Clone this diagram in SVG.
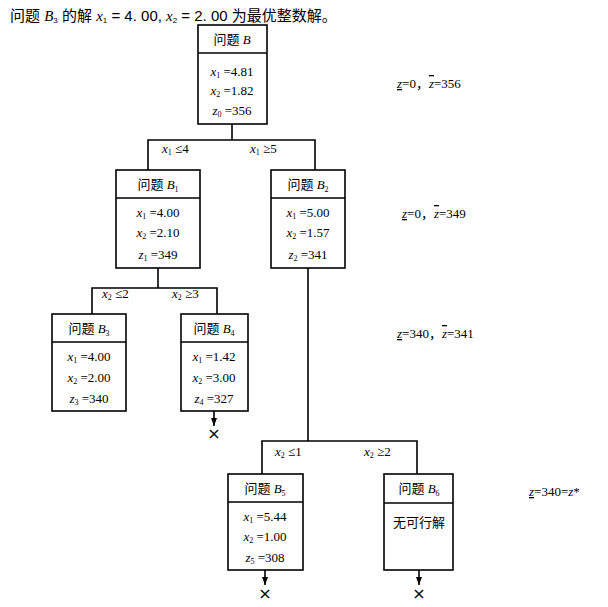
<svg xmlns="http://www.w3.org/2000/svg" width="608" height="607" viewBox="0 0 608 607">
<style>
.b{fill:#fff;stroke:#000;stroke-width:1.6}
.l{fill:none;stroke:#000;stroke-width:1.6}
text{font-family:"Liberation Serif","Noto Sans CJK SC",serif;font-size:13px;fill:#000}
.m{text-anchor:middle}
.h{font-size:13px;text-anchor:middle}
.x{font-family:"DejaVu Sans",sans-serif;font-size:16px;text-anchor:middle}
</style>
<defs><marker id="a" markerWidth="9" markerHeight="8" refX="8" refY="4" orient="auto" markerUnits="userSpaceOnUse"><path d="M0,1 L8,4 L0,7 Z" fill="#000"/></marker></defs>
<text x="10" y="21" style="font-family:'Liberation Sans','Noto Sans CJK SC',sans-serif;font-size:15px">问题 <tspan font-style="italic" font-family="Liberation Serif">B</tspan><tspan font-size="8" dy="2">3</tspan><tspan dy="-2"> 的解 </tspan><tspan font-style="italic" font-family="Liberation Serif">x</tspan><tspan font-size="8" dy="2">1</tspan><tspan dy="-2"> = 4. 00, </tspan><tspan font-style="italic" font-family="Liberation Serif">x</tspan><tspan font-size="8" dy="2">2</tspan><tspan dy="-2"> = 2. 00 为最优整数解。</tspan></text>
<g id="connectors">
<path class="l" d="M232,124V140M148,170V140H315V170"/>
<path class="l" d="M158,268V288M92,314V288H217V314"/>
<path class="l" d="M308,268V441M262,474V441H417V474"/>
<path class="l" d="M214,411V426" marker-end="url(#a)"/>
<path class="l" d="M265,570V585" marker-end="url(#a)"/>
<path class="l" d="M419,570V585" marker-end="url(#a)"/>
<text x="162" y="153"><tspan font-style="italic">x</tspan><tspan font-size="8" dy="2">1</tspan><tspan dy="-2"> ≤4</tspan></text>
<text x="250" y="153"><tspan font-style="italic">x</tspan><tspan font-size="8" dy="2">1</tspan><tspan dy="-2"> ≥5</tspan></text>
<text x="102" y="298"><tspan font-style="italic">x</tspan><tspan font-size="8" dy="2">2</tspan><tspan dy="-2"> ≤2</tspan></text>
<text x="172" y="298"><tspan font-style="italic">x</tspan><tspan font-size="8" dy="2">2</tspan><tspan dy="-2"> ≥3</tspan></text>
<text x="275" y="456"><tspan font-style="italic">x</tspan><tspan font-size="8" dy="2">2</tspan><tspan dy="-2"> ≤1</tspan></text>
<text x="364" y="456"><tspan font-style="italic">x</tspan><tspan font-size="8" dy="2">2</tspan><tspan dy="-2"> ≥2</tspan></text>
<text class="x" x="214" y="439">×</text>
<text class="x" x="265" y="599">×</text>
<text class="x" x="419" y="599">×</text>
</g>
<g id="B"><rect class="b" x="198" y="25" width="69" height="99"/><path class="l" d="M198,53H267"/>
<text class="h" x="232" y="44">问题 <tspan font-style="italic">B</tspan></text>
<text class="m" x="232" y="76"><tspan font-style="italic">x</tspan><tspan font-size="8" dy="2">1</tspan><tspan dy="-2"> =4.81</tspan></text>
<text class="m" x="232" y="95"><tspan font-style="italic">x</tspan><tspan font-size="8" dy="2">2</tspan><tspan dy="-2"> =1.82</tspan></text>
<text class="m" x="232" y="115"><tspan font-style="italic">z</tspan><tspan font-size="8" dy="2">0</tspan><tspan dy="-2"> =356</tspan></text></g>
<g id="B1"><rect class="b" x="116" y="170" width="84" height="98"/><path class="l" d="M116,198H200"/>
<text class="h" x="158" y="189">问题 <tspan font-style="italic">B</tspan><tspan font-size="8" dy="3">1</tspan></text>
<text class="m" x="158" y="217"><tspan font-style="italic">x</tspan><tspan font-size="8" dy="2">1</tspan><tspan dy="-2"> =4.00</tspan></text>
<text class="m" x="158" y="237"><tspan font-style="italic">x</tspan><tspan font-size="8" dy="2">2</tspan><tspan dy="-2"> =2.10</tspan></text>
<text class="m" x="158" y="259"><tspan font-style="italic">z</tspan><tspan font-size="8" dy="2">1</tspan><tspan dy="-2"> =349</tspan></text></g>
<g id="B2"><rect class="b" x="271" y="170" width="74" height="98"/><path class="l" d="M271,198H345"/>
<text class="h" x="308" y="189">问题 <tspan font-style="italic">B</tspan><tspan font-size="8" dy="3">2</tspan></text>
<text class="m" x="308" y="217"><tspan font-style="italic">x</tspan><tspan font-size="8" dy="2">1</tspan><tspan dy="-2"> =5.00</tspan></text>
<text class="m" x="308" y="237"><tspan font-style="italic">x</tspan><tspan font-size="8" dy="2">2</tspan><tspan dy="-2"> =1.57</tspan></text>
<text class="m" x="308" y="259"><tspan font-style="italic">z</tspan><tspan font-size="8" dy="2">2</tspan><tspan dy="-2"> =341</tspan></text></g>
<g id="B3"><rect class="b" x="52" y="314" width="74" height="97"/><path class="l" d="M52,342H126"/>
<text class="h" x="89" y="333">问题 <tspan font-style="italic">B</tspan><tspan font-size="8" dy="3">3</tspan></text>
<text class="m" x="89" y="361"><tspan font-style="italic">x</tspan><tspan font-size="8" dy="2">1</tspan><tspan dy="-2"> =4.00</tspan></text>
<text class="m" x="89" y="382"><tspan font-style="italic">x</tspan><tspan font-size="8" dy="2">2</tspan><tspan dy="-2"> =2.00</tspan></text>
<text class="m" x="89" y="403"><tspan font-style="italic">z</tspan><tspan font-size="8" dy="2">3</tspan><tspan dy="-2"> =340</tspan></text></g>
<g id="B4"><rect class="b" x="181" y="314" width="67" height="97"/><path class="l" d="M181,342H248"/>
<text class="h" x="214" y="333">问题 <tspan font-style="italic">B</tspan><tspan font-size="8" dy="3">4</tspan></text>
<text class="m" x="214" y="361"><tspan font-style="italic">x</tspan><tspan font-size="8" dy="2">1</tspan><tspan dy="-2"> =1.42</tspan></text>
<text class="m" x="214" y="382"><tspan font-style="italic">x</tspan><tspan font-size="8" dy="2">2</tspan><tspan dy="-2"> =3.00</tspan></text>
<text class="m" x="214" y="403"><tspan font-style="italic">z</tspan><tspan font-size="8" dy="2">4</tspan><tspan dy="-2"> =327</tspan></text></g>
<g id="B5"><rect class="b" x="228" y="474" width="75" height="96"/><path class="l" d="M228,502H303"/>
<text class="h" x="265" y="493">问题 <tspan font-style="italic">B</tspan><tspan font-size="8" dy="3">5</tspan></text>
<text class="m" x="265" y="521"><tspan font-style="italic">x</tspan><tspan font-size="8" dy="2">1</tspan><tspan dy="-2"> =5.44</tspan></text>
<text class="m" x="265" y="541"><tspan font-style="italic">x</tspan><tspan font-size="8" dy="2">2</tspan><tspan dy="-2"> =1.00</tspan></text>
<text class="m" x="265" y="562"><tspan font-style="italic">z</tspan><tspan font-size="8" dy="2">5</tspan><tspan dy="-2"> =308</tspan></text></g>
<g id="B6"><rect class="b" x="384" y="474" width="69" height="96"/><path class="l" d="M384,503H453"/>
<text class="h" x="419" y="493">问题 <tspan font-style="italic">B</tspan><tspan font-size="8" dy="3">6</tspan></text>
<text class="h" x="419" y="527">无可行解</text></g>
<g id="bounds">
<text x="397" y="88"><tspan font-style="italic" text-decoration="underline">z</tspan>=0，<tspan font-style="italic" text-decoration="overline">z</tspan>=356</text>
<text x="402" y="218"><tspan font-style="italic" text-decoration="underline">z</tspan>=0，<tspan font-style="italic" text-decoration="overline">z</tspan>=349</text>
<text x="397" y="338"><tspan font-style="italic" text-decoration="underline">z</tspan>=340，<tspan font-style="italic" text-decoration="overline">z</tspan>=341</text>
<text x="529" y="496"><tspan font-style="italic" text-decoration="underline">z</tspan>=340=<tspan font-style="italic">z</tspan>*</text>
</g>
</svg>
